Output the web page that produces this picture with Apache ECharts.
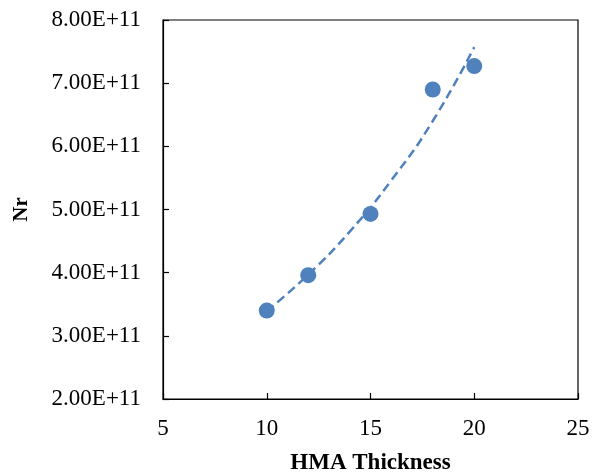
<!DOCTYPE html>
<html>
<head>
<meta charset="utf-8">
<script src="https://cdn.jsdelivr.net/npm/echarts@6/dist/echarts.min.js"></script>
<style>
    html, body { margin: 0; padding: 0; background: #fff; }
    #chart { width: 601px; height: 475px; }
</style>
</head>
<body>
<div id="chart"></div>
<script>
// measured points
const thickness = [10, 12, 15, 18, 20]
const nr = [3.40e11, 3.96e11, 4.93e11, 6.90e11, 7.27e11]

// dashed trend line
const trendX = [10, 12, 14, 16, 18, 20]
const trendY = [3.39e11, 3.97e11, 4.65e11, 5.46e11, 6.40e11, 7.57e11]

const blue = '#4f81bd'
const font = '"Liberation Serif", "Times New Roman", serif'

const chart = echarts.init(document.getElementById('chart'))

const axisLine = { lineStyle: { color: '#000', width: 1.2 } }

chart.setOption({
    animation: false,
    grid: {
        left: 163,
        right: 23,
        top: 20,
        bottom: 76,
        outerBoundsMode: 'none',
        show: true,
        borderColor: '#000',
        borderWidth: 1.2
    },
    xAxis: {
        type: 'value',
        min: 5,
        max: 25,
        interval: 5,
        name: 'HMA Thickness',
        nameLocation: 'middle',
        nameGap: 53,
        nameTextStyle: { fontFamily: font, fontSize: 23, fontWeight: 'bold', color: '#000' },
        axisLine,
        axisTick: { show: true, inside: true, length: 6, lineStyle: { color: '#000', width: 1.2 } },
        axisLabel: { fontFamily: font, fontSize: 23, color: '#000', margin: 18 },
        splitLine: { show: false }
    },
    yAxis: {
        type: 'value',
        min: 2e11,
        max: 8e11,
        interval: 1e11,
        name: 'Nr',
        nameLocation: 'middle',
        nameGap: 131,
        nameTextStyle: { fontFamily: font, fontSize: 21, fontWeight: 'bold', color: '#000' },
        axisLine,
        axisTick: { show: true, inside: true, length: 6, lineStyle: { color: '#000', width: 1.2 } },
        axisLabel: {
            fontFamily: font,
            fontSize: 23,
            color: '#000',
            margin: 22,
            formatter: v => (v / 1e11).toFixed(2) + 'E+11'
        },
        splitLine: { show: false }
    },
    series: [
        {
            type: 'line',
            data: trendX.map((x, i) => [x, trendY[i]]),
            smooth: true,
            showSymbol: false,
            lineStyle: { color: blue, width: 2.5, type: [9, 5] },
            z: 1
        },
        {
            type: 'scatter',
            data: thickness.map((x, i) => [x, nr[i]]),
            symbolSize: 16,
            itemStyle: { color: blue, opacity: 1 },
            z: 2
        }
    ]
})
</script>
</body>
</html>
